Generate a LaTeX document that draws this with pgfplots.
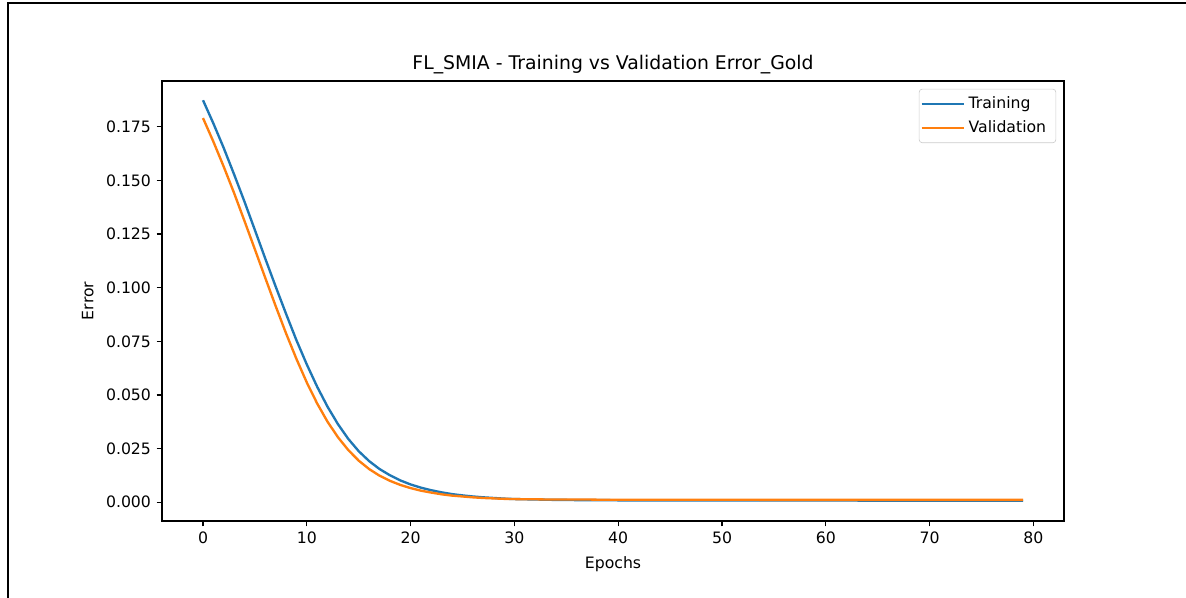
\documentclass[border=0pt]{standalone}
\usepackage{fontspec}
\setmainfont{DejaVu Sans}
\usepackage{pgfplots}
\usepackage{pgfplotstable}
\pgfplotsset{compat=1.18}

\definecolor{mplblue}{HTML}{1F77B4}
\definecolor{mplorange}{HTML}{FF7F0E}
\definecolor{legframe}{HTML}{CCCCCC}

% epoch, error
\pgfplotstableread{
e err
0 0.1873
1 0.1765
2 0.1650
3 0.1527
4 0.1400
5 0.1268
6 0.1135
7 0.1005
8 0.0878
9 0.0755
10 0.0642
11 0.0538
12 0.0445
13 0.0364
14 0.0295
15 0.0238
16 0.0192
17 0.0155
18 0.0126
19 0.0102
20 0.0083
21 0.0068
22 0.0056
23 0.0046
24 0.0038
25 0.0032
26 0.0027
27 0.0023
28 0.0020
29 0.0017
30 0.0015
31 0.0014
32 0.0013
33 0.0012
34 0.0011
35 0.0011
36 0.0010
37 0.0010
38 0.0010
39 0.0010
40 0.0009
41 0.0009
42 0.0009
43 0.0009
44 0.0009
45 0.0009
46 0.0009
47 0.0009
48 0.0008
49 0.0008
50 0.0008
51 0.0008
52 0.0008
53 0.0008
54 0.0008
55 0.0008
56 0.0008
57 0.0008
58 0.0008
59 0.0008
60 0.0008
61 0.0008
62 0.0008
63 0.0008
64 0.0007
65 0.0007
66 0.0007
67 0.0007
68 0.0007
69 0.0007
70 0.0007
71 0.0007
72 0.0007
73 0.0007
74 0.0007
75 0.0007
76 0.0007
77 0.0007
78 0.0007
79 0.0007
}\training

\pgfplotstableread{
e err
0 0.1790
1 0.1680
2 0.1563
3 0.1440
4 0.1310
5 0.1178
6 0.1045
7 0.0914
8 0.0787
9 0.0668
10 0.0558
11 0.0460
12 0.0375
13 0.0303
14 0.0243
15 0.0194
16 0.0155
17 0.0124
18 0.0100
19 0.0081
20 0.0066
21 0.0054
22 0.0045
23 0.0037
24 0.0031
25 0.0027
26 0.0023
27 0.0020
28 0.0018
29 0.0016
30 0.0015
31 0.0014
32 0.0014
33 0.0013
34 0.0013
35 0.0013
36 0.0013
37 0.0013
38 0.0012
39 0.0012
40 0.0012
41 0.0012
42 0.0012
43 0.0012
44 0.0012
45 0.0012
46 0.0012
47 0.0012
48 0.0012
49 0.0012
50 0.0012
51 0.0012
52 0.0012
53 0.0012
54 0.0011
55 0.0011
56 0.0011
57 0.0011
58 0.0011
59 0.0011
60 0.0011
61 0.0011
62 0.0011
63 0.0011
64 0.0011
65 0.0011
66 0.0011
67 0.0011
68 0.0011
69 0.0011
70 0.0011
71 0.0011
72 0.0011
73 0.0011
74 0.0011
75 0.0011
76 0.0011
77 0.0011
78 0.0011
79 0.0011
}\validation

\begin{document}
\begin{tikzpicture}
\useasboundingbox (0pt,0pt) rectangle (755.5pt,380.9pt);
% screenshot frame (top and left edges)
\draw[line width=1pt] (5.1pt,0pt) -- (5.1pt,379pt) -- (755.5pt,379pt);

\begin{axis}[
  at={(103.2pt,49.05pt)}, anchor=south west,
  scale only axis,
  width=574.6pt, height=280.3pt,
  xmin=-3.95, xmax=82.95,
  ymin=-0.0087, ymax=0.1963,
  xtick={0,10,...,80},
  ytick={0,0.025,0.05,0.075,0.1,0.125,0.15,0.175},
  yticklabel style={/pgf/number format/.cd,fixed,fixed zerofill,precision=3},
  scaled y ticks=false,
  /pgf/number format/assume math mode=true,
  tick label style={font=\fontsize{10}{12}\selectfont},
  tick align=outside, tick pos=left,
  major tick length=3.5pt,
  every tick/.style={black,line width=0.8pt},
  axis line style={line width=0.8pt},
  title={FL\_SMIA - Training vs Validation Error\_Gold},
  title style={at={(axis description cs:0.5,1)},anchor=base,yshift=1.5pt,font=\fontsize{12}{14}\selectfont},
  xlabel={Epochs},
  xlabel style={at={(axis description cs:0.5,-0.107)},anchor=base,font=\fontsize{10}{12}\selectfont},
  ylabel={Error},
  ylabel style={at={(axis description cs:-0.0762,0.5)},anchor=base,font=\fontsize{10}{12}\selectfont},
  legend style={at={(axis description cs:1,1)},anchor=north east,xshift=-5pt,yshift=-5pt,
    draw=legframe,rounded corners=2pt,font=\fontsize{10}{12}\selectfont,
    row sep=2pt,inner xsep=1pt,inner ysep=3pt},
  legend cell align=left,
  legend image code/.code={\path (0pt,0pt) -- (27pt,0pt);\draw[#1,line width=1.5pt] (0pt,0pt) -- (25pt,0pt);},
]
\addplot[mplblue,line width=1.5pt] table[x=e,y=err] {\training};
\addlegendentry{Training\hspace*{3.2pt}}
\addplot[mplorange,line width=1.5pt] table[x=e,y=err] {\validation};
\addlegendentry{Validation\hspace*{3.2pt}}
\end{axis}
\end{tikzpicture}
\end{document}
